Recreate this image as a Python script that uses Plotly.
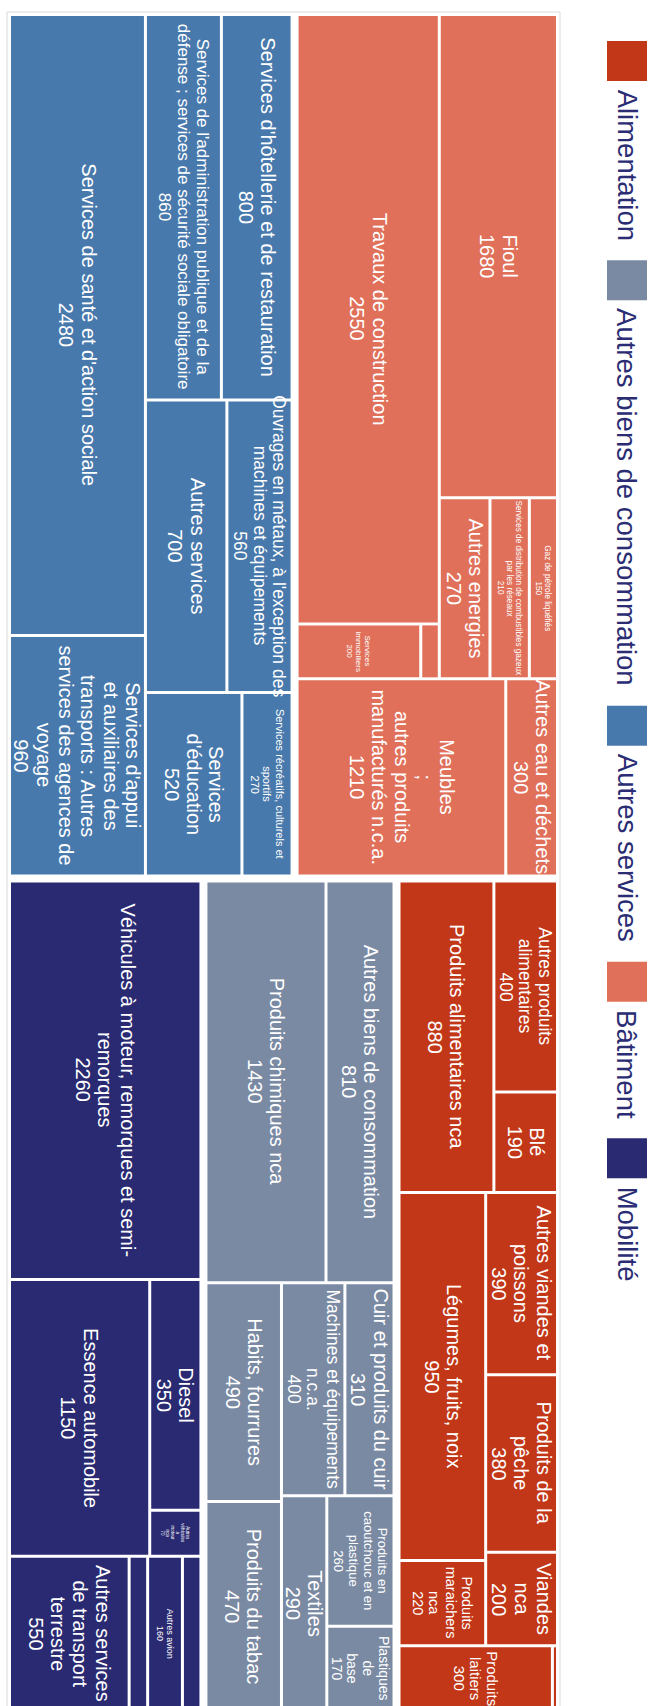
import plotly.graph_objects as go

# ---------------------------------------------------------------- data
groups = ["Alimentation", "Autres biens de consommation", "Autres services", "Bâtiment", "Mobilité"]

alimentation_labels = [
    "Produits alimentaires nca", "Autres produits alimentaires", "Blé",
    "Légumes, fruits, noix", "Produits maraichers nca", "Autres viandes et poissons",
    "Produits de la pêche", "Viandes nca", "Produits laitiers", "Divers alimentation",
]
alimentation_values = [880, 400, 190, 950, 220, 390, 380, 200, 300, 10]

biens_labels = [
    "Produits chimiques nca", "Autres biens de consommation", "Habits, fourrures",
    "Produits du tabac", "Machines et équipements n.c.a.", "Cuir et produits du cuir",
    "Textiles", "Produits en caoutchouc et en plastique", "Plastiques de base",
]
biens_values = [1430, 810, 490, 470, 400, 310, 290, 260, 170]

services_labels = [
    "Services de santé et d'action sociale",
    "Services d'appui et auxiliaires des transports : Autres services des agences de voyage",
    "Services de l'administration publique et de la défense ; services de sécurité sociale obligatoire",
    "Services d'hôtellerie et de restauration", "Autres services",
    "Ouvrages en métaux, à l'exception des machines et équipements",
    "Services d'éducation", "Services récréatifs, culturels et sportifs",
]
services_values = [2480, 960, 860, 800, 700, 560, 520, 270]

batiment_labels = [
    "Travaux de construction", "Services immobiliers", "Divers bâtiment", "Fioul",
    "Autres energies", "Services de distribution de combustibles gazeux par les réseaux",
    "Gaz de pétrole liquéfiés", "Meubles ; autres produits manufacturés n.c.a.",
    "Autres eau et déchets",
]
batiment_values = [2550, 200, 30, 1680, 270, 210, 150, 1210, 300]

mobilite_labels = [
    "Véhicules à moteur, remorques et semi-remorques", "Essence automobile", "Diesel",
    "Autres véhicules à moteur nca", "Autres services de transport terrestre",
    "Divers mobilité A", "Autres avion", "Divers mobilité B",
]
mobilite_values = [2260, 1150, 350, 70, 550, 85, 160, 85]

group_items = {
    "Alimentation": (alimentation_labels, alimentation_values),
    "Autres biens de consommation": (biens_labels, biens_values),
    "Autres services": (services_labels, services_values),
    "Bâtiment": (batiment_labels, batiment_values),
    "Mobilité": (mobilite_labels, mobilite_values),
}

# ---------------------------------------------------------------- styles
group_colors = {
    "Alimentation": "#C23718",
    "Autres biens de consommation": "#7A8AA3",
    "Autres services": "#4879AC",
    "Bâtiment": "#E0705A",
    "Mobilité": "#292A72",
}
LEGEND_TEXT = "#2B2D74"
FONT = "Liberation Sans, Arial, sans-serif"

# Slice structure of the tiling (row = side by side, col = stacked)
root_tree = ("col", [("row", ["Autres services", "Bâtiment"]),
                     ("row", ["Mobilité", "Autres biens de consommation", "Alimentation"])])
group_trees = {
    "Autres services": ("row", [
        ("col", [services_labels[0], services_labels[1]]),
        ("col", [("row", [services_labels[2], services_labels[3]]),
                 ("row", [services_labels[4], services_labels[5]]),
                 ("row", [services_labels[6], services_labels[7]])]),
    ]),
    "Bâtiment": ("col", [
        ("row", [("col", [batiment_labels[0], ("row", [batiment_labels[1], batiment_labels[2]])]),
                 ("col", [batiment_labels[3], ("row", [batiment_labels[4], batiment_labels[5], batiment_labels[6]])])]),
        ("row", [batiment_labels[7], batiment_labels[8]]),
    ]),
    "Mobilité": ("col", [
        mobilite_labels[0],
        ("row", [mobilite_labels[1], ("col", [mobilite_labels[2], mobilite_labels[3]])]),
        ("row", [mobilite_labels[4], mobilite_labels[5], mobilite_labels[6], mobilite_labels[7]]),
    ]),
    "Autres biens de consommation": ("col", [
        ("row", [biens_labels[0], biens_labels[1]]),
        ("row", [("col", [biens_labels[2], biens_labels[3]]),
                 ("col", [("row", [biens_labels[4], biens_labels[5]]),
                          ("row", [biens_labels[6], ("col", [biens_labels[7], biens_labels[8]])])])]),
    ]),
    "Alimentation": ("col", [
        ("row", [alimentation_labels[0], ("col", [alimentation_labels[1], alimentation_labels[2]])]),
        ("row", [("col", [alimentation_labels[3], alimentation_labels[4]]),
                 ("col", [alimentation_labels[5], alimentation_labels[6], alimentation_labels[7]])]),
        ("row", [alimentation_labels[8], alimentation_labels[9]]),
    ]),
}

# Wrapped text lines and font size of each tile label
tile_text = {
    "Services de santé et d'action sociale": (["Services de santé et d'action sociale"], 20),
    "Services d'appui et auxiliaires des transports : Autres services des agences de voyage":
        (["Services d'appui", "et auxiliaires des", "transports : Autres", "services des agences de", "voyage"], 20),
    "Services de l'administration publique et de la défense ; services de sécurité sociale obligatoire":
        (["Services de l'administration publique et de la", "défense ; services de sécurité sociale obligatoire"], 17),
    "Services d'hôtellerie et de restauration": (["Services d'hôtellerie et de restauration"], 20),
    "Autres services": (["Autres services"], 20),
    "Ouvrages en métaux, à l'exception des machines et équipements":
        (["Ouvrages en métaux, à l'exception des", "machines et équipements"], 17.5),
    "Services d'éducation": (["Services", "d'éducation"], 20),
    "Services récréatifs, culturels et sportifs": (["Services récréatifs, culturels et", "sportifs"], 11),
    "Travaux de construction": (["Travaux de construction"], 20),
    "Services immobiliers": (["Services", "immobiliers"], 8),
    "Fioul": (["Fioul"], 20),
    "Autres energies": (["Autres energies"], 20),
    "Services de distribution de combustibles gazeux par les réseaux":
        (["Services de distribution de combustibles gazeux", "par les réseaux"], 8.2),
    "Gaz de pétrole liquéfiés": (["Gaz de pétrole liquéfiés"], 8.2),
    "Meubles ; autres produits manufacturés n.c.a.":
        (["Meubles", ";", "autres produits", "manufacturés n.c.a."], 20),
    "Autres eau et déchets": (["Autres eau et déchets"], 20),
    "Véhicules à moteur, remorques et semi-remorques":
        (["Véhicules à moteur, remorques et semi-", "remorques"], 20),
    "Essence automobile": (["Essence automobile"], 20),
    "Diesel": (["Diesel"], 20),
    "Autres véhicules à moteur nca": (["Autres", "véhicules", "à", "moteur", "nca"], 4.5),
    "Autres services de transport terrestre": (["Autres services", "de transport", "terrestre"], 20),
    "Autres avion": (["Autres avion"], 9),
    "Produits chimiques nca": (["Produits chimiques nca"], 20),
    "Autres biens de consommation": (["Autres biens de consommation"], 20),
    "Habits, fourrures": (["Habits, fourrures"], 20),
    "Produits du tabac": (["Produits du tabac"], 20),
    "Machines et équipements n.c.a.": (["Machines et équipements", "n.c.a."], 17.5),
    "Cuir et produits du cuir": (["Cuir et produits du cuir"], 20),
    "Textiles": (["Textiles"], 20),
    "Produits en caoutchouc et en plastique": (["Produits en", "caoutchouc et en", "plastique"], 13),
    "Plastiques de base": (["Plastiques", "de", "base"], 14),
    "Produits alimentaires nca": (["Produits alimentaires nca"], 20),
    "Autres produits alimentaires": (["Autres produits", "alimentaires"], 17.5),
    "Blé": (["Blé"], 20),
    "Légumes, fruits, noix": (["Légumes, fruits, noix"], 20),
    "Produits maraichers nca": (["Produits", "maraichers", "nca"], 14.5),
    "Autres viandes et poissons": (["Autres viandes et", "poissons"], 20),
    "Produits de la pêche": (["Produits de la", "pêche"], 20),
    "Viandes nca": (["Viandes", "nca"], 20),
    "Produits laitiers": (["Produits", "laitiers"], 15),
}

FRAME = (7, 12, 560, 1714)     # x0, y0, x1, y1 of the tiled area (page pixels)
GROUP_PAD = 2.5
LEAF_INSET = 1.5
LINE_SPACING = 1.12


# ---------------------------------------------------------------- tiling
def node_value(node, vals):
    if isinstance(node, str):
        return vals[node]
    return sum(node_value(k, vals) for k in node[1])


def place(node, vals, x0, y0, x1, y1, out):
    if isinstance(node, str):
        out.append((node, x0, y0, x1, y1))
        return
    kind, kids = node
    total = node_value(node, vals)
    pos = x0 if kind == "row" else y0
    for k in kids:
        frac = node_value(k, vals) / total
        if kind == "row":
            w = (x1 - x0) * frac
            place(k, vals, pos, y0, pos + w, y1, out)
            pos += w
        else:
            h = (y1 - y0) * frac
            place(k, vals, x0, pos, x1, pos + h, out)
            pos += h


group_totals = {g: sum(v) for g, (_, v) in group_items.items()}
group_cells = []
place(root_tree, group_totals, *FRAME, group_cells)

shapes, annotations = [], []

# outer frame
shapes.append(dict(type="rect", xref="x", yref="y", x0=FRAME[0], y0=FRAME[1], x1=FRAME[2], y1=FRAME[3],
                   line=dict(color="#DADADA", width=1), fillcolor="rgba(0,0,0,0)", layer="below"))

for g, gx0, gy0, gx1, gy1 in group_cells:
    labels, values = group_items[g]
    vals = dict(zip(labels, values))
    leaves = []
    place(group_trees[g], vals, gx0 + GROUP_PAD, gy0 + GROUP_PAD, gx1 - GROUP_PAD, gy1 - GROUP_PAD, leaves)
    for lab, x0, y0, x1, y1 in leaves:
        shapes.append(dict(type="rect", xref="x", yref="y",
                           x0=x0 + LEAF_INSET, y0=y0 + LEAF_INSET, x1=x1 - LEAF_INSET, y1=y1 - LEAF_INSET,
                           line=dict(width=0), fillcolor=group_colors[g], layer="below"))
        if lab not in tile_text:
            continue
        lines, fs = tile_text[lab]
        lines = lines + [f"{vals[lab]}"]
        cx, cy = (x0 + x1) / 2, (y0 + y1) / 2
        ls = fs * LINE_SPACING
        n = len(lines)
        for i, txt in enumerate(lines):
            annotations.append(dict(
                x=cx + ((n - 1) / 2 - i) * ls, y=cy, xref="x", yref="y",
                text=txt, showarrow=False, textangle=90,
                xanchor="center", yanchor="middle",
                font=dict(family=FONT, size=fs, color="white"),
            ))

# ---------------------------------------------------------------- legend
ARIAL_W = {"A": 667, "B": 667, "M": 833, "a": 556, "b": 556, "c": 500, "d": 556, "e": 556,
           "i": 222, "l": 222, "m": 833, "n": 556, "o": 556, "r": 333, "s": 500, "t": 278,
           "u": 556, "v": 500, "â": 556, "é": 556, " ": 278}
LEG_FS = 27.5
LEG_X = 627
SQ = 40
pos = 41
for g in groups:
    shapes.append(dict(type="rect", xref="x", yref="y", x0=LEG_X - SQ / 2, x1=LEG_X + SQ / 2,
                       y0=pos, y1=pos + SQ, line=dict(width=0), fillcolor=group_colors[g]))
    pos += SQ + 8
    length = sum(ARIAL_W.get(ch, 556) for ch in g) * LEG_FS / 1000
    annotations.append(dict(x=LEG_X, y=pos + length / 2, xref="x", yref="y", text=g, showarrow=False,
                            textangle=90, xanchor="center", yanchor="middle",
                            font=dict(family=FONT, size=LEG_FS, color=LEGEND_TEXT)))
    pos += length + 20

fig = go.Figure()
fig.update_layout(
    width=648, height=1706,
    margin=dict(l=0, r=0, t=0, b=0),
    paper_bgcolor="white", plot_bgcolor="white",
    xaxis=dict(range=[0, 648], visible=False, fixedrange=True),
    yaxis=dict(range=[1706, 0], visible=False, fixedrange=True),
    shapes=shapes, annotations=annotations, showlegend=False,
)
fig.write_html("out.html")
